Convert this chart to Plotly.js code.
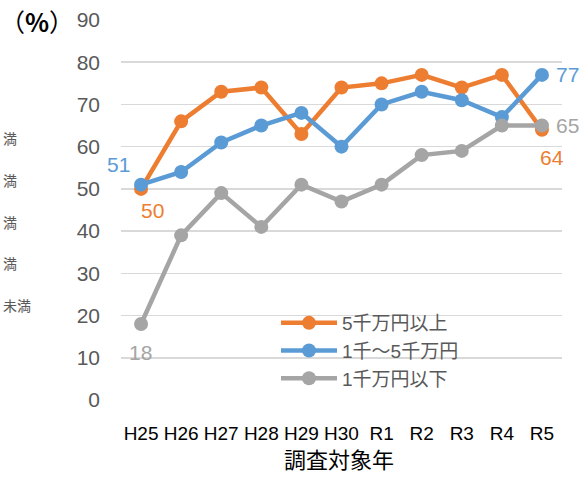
<!DOCTYPE html>
<html><head><meta charset="utf-8">
<script src="https://cdn.plot.ly/plotly-3.0.1.min.js"></script>
<style>html,body{margin:0;padding:0;background:#fff}#chart{width:585px;height:478px}</style>
</head><body><div id="chart"></div>
<script>
const categories = ["H25","H26","H27","H28","H29","H30","R1","R2","R3","R4","R5"];
const seriesNames = ["5千万円以上","1千～5千万円","1千万円以下"];
const over50m = [50,66,73,74,63,74,75,77,74,77,64];
const from10to50m = [51,54,61,65,68,60,70,73,71,67,77];
const under10m = [18,39,49,41,51,47,51,58,59,65,65];
const colors = ["#ED7D31","#5B9BD5","#A5A5A5"];
const yTicks = [0,10,20,30,40,50,60,70,80,90];
const sideLabels = ["満","満","満","満","未満"];

const FONT = "Liberation Sans, Arial, 'Noto Sans CJK JP', sans-serif";
const series = [over50m, from10to50m, under10m];
const traces = series.map((vals,i)=>({
  type:"scatter", mode:"lines+markers", x:categories, y:vals, name:seriesNames[i],
  line:{color:colors[i], width:4.5}, marker:{color:colors[i], size:14},
  cliponaxis:false
}));

const labelOffsets = [
  [{dx:11,dy:-22},{dx:10,dy:-28}],
  [{dx:-23,dy:20},{dx:26,dy:0}],
  [{dx:-1,dy:-28},{dx:26,dy:0}]
];
const annotations = [];
series.forEach((vals,i)=>{
  [0, vals.length-1].forEach((idx,k)=>{
    annotations.push({x:categories[idx], y:vals[idx], xref:"x", yref:"y",
      text:String(vals[idx]), showarrow:false,
      xshift:labelOffsets[i][k].dx, yshift:labelOffsets[i][k].dy,
      font:{family:FONT, size:21, color:colors[i]}});
  });
});
annotations.push({xref:"paper", yref:"paper", x:(37-121)/441, y:(400-21)/380, xanchor:"center", yanchor:"middle",
  text:"（<b>%</b>）", showarrow:false, font:{family:"'Noto Sans CJK JP', sans-serif", size:25, color:"#000"}});
annotations.push({xref:"paper", yref:"paper", x:(339-121)/441, y:(400-458)/380, xanchor:"center", yanchor:"middle",
  text:"調査対象年", showarrow:false, font:{family:"'Noto Sans CJK JP', sans-serif", size:22, color:"#000"}});
const sideY = [138,180,222,263,305];
sideLabels.forEach((t,i)=>{
  annotations.push({xref:"paper", yref:"paper", x:(1-121)/441, y:(400-sideY[i])/380,
    xanchor:"left", yanchor:"middle", text:t, showarrow:false,
    font:{family:"'Noto Sans CJK JP', sans-serif", size:14, color:"#595959"}});
});

const layout = {
  width:585, height:478,
  margin:{l:121, r:23, t:20, b:78},
  paper_bgcolor:"#fff", plot_bgcolor:"#fff",
  showlegend:true,
  legend:{x:(276-121)/441, y:(400-304)/380, xanchor:"left", yanchor:"top", bgcolor:"rgba(0,0,0,0)",
    font:{family:FONT, size:19, color:"#595959"}, tracegroupgap:0, itemwidth:56},
  xaxis:{type:"category", range:[-0.5,10.5], showgrid:false, zeroline:false, showline:false,
    ticks:"", tickfont:{family:FONT, size:19, color:"#000"}, ticklabelstandoff:20},
  yaxis:{range:[0,90], tickvals:yTicks, showgrid:true, gridcolor:"#D9D9D9", gridwidth:1.5,
    zeroline:false, showline:false, ticks:"", ticklabelstandoff:20,
    tickfont:{family:FONT, size:21, color:"#595959"}},
  annotations:annotations
};
Plotly.newPlot("chart", traces, layout, {staticPlot:true});
</script></body></html>
